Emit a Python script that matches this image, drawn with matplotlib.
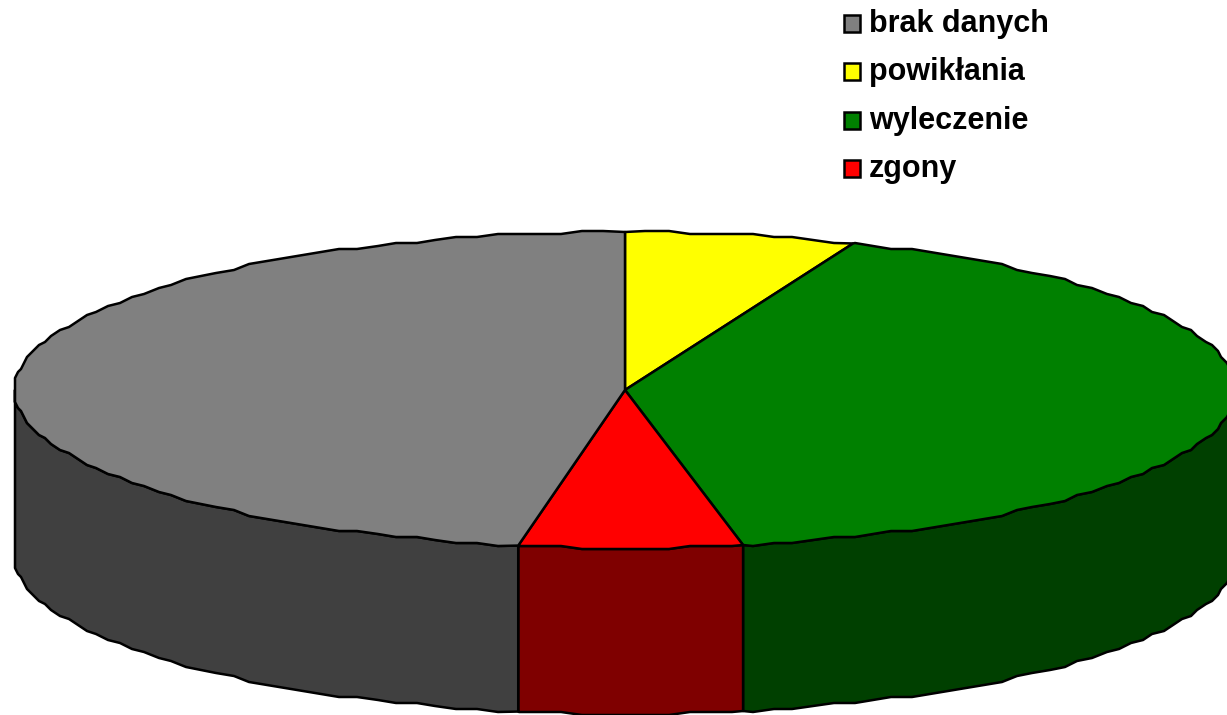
import numpy as np
import matplotlib
matplotlib.use("Agg")
import matplotlib.pyplot as plt
from matplotlib.patches import Rectangle

labels = ["brak danych", "powikłania", "wyleczenie", "zgony"]
values = [47.2, 6.1, 40.8, 5.9]
colors = ["#808080", "#FFFF00", "#008000", "#FF0000"]
side_colors = ["#404040", "#7F0000", "#004000", "#7F0000"]

# pie geometry in pixels
cx, cy = 625, 390
rx, ry = 610, 158
depth = 166
step = 2.0  # outline sampling in degrees
grid = 3.0  # outline points sit on a rough grid, that gives the jagged edge


def arc(a1, a2):
    """angles in degrees clockwise from the top of the pie"""
    inner = np.arange(np.ceil(a1 / step + 1e-6), np.floor(a2 / step - 1e-6) + 1) * step
    a = np.radians(np.r_[a1, inner, a2])
    x = cx + rx * np.sin(a)
    y = cy - ry * np.cos(a)
    # keep the slice ends exact, only the points between are rough
    x[1:-1] = np.round(x[1:-1] / grid) * grid
    y[1:-1] = np.round(y[1:-1] / grid) * grid
    return x, y


fig = plt.figure(figsize=(12.27, 7.15), dpi=100)
ax = fig.add_axes([0, 0, 1, 1])
ax.set_xlim(0, 1227)
ax.set_ylim(715, 0)
ax.axis("off")

# drawn clockwise from the top: powikłania, wyleczenie, zgony, brak danych
order = [1, 2, 3, 0]
sweeps = np.array(values)[order] / sum(values) * 360
starts = np.concatenate([[0], np.cumsum(sweeps)[:-1]])

# side walls, only the part facing front (90..270 deg from the top)
for i, start, sweep in zip(order, starts, sweeps):
    a1 = max(start, 90)
    a2 = min(start + sweep, 270)
    if a2 <= a1:
        continue
    x, y = arc(a1, a2)
    ax.fill(np.r_[x, x[::-1]], np.r_[y, y[::-1] + depth],
            facecolor=side_colors[i], edgecolor="black", linewidth=1.8, joinstyle="round")

# top slices
for i, start, sweep in zip(order, starts, sweeps):
    x, y = arc(start, start + sweep)
    ax.fill(np.r_[cx, x], np.r_[cy, y],
            facecolor=colors[i], edgecolor="black", linewidth=1.8, joinstyle="round")

# legend
for i, label in enumerate(labels):
    row = 48.4 * i
    ax.add_patch(Rectangle((844, 15 + row), 16, 17, facecolor=colors[i], edgecolor="black", linewidth=1.8))
    ax.text(869, 32 + row, label, family="Liberation Sans", weight="bold", fontsize=22, va="baseline", ha="left")

fig.savefig("out.png", dpi=100)
